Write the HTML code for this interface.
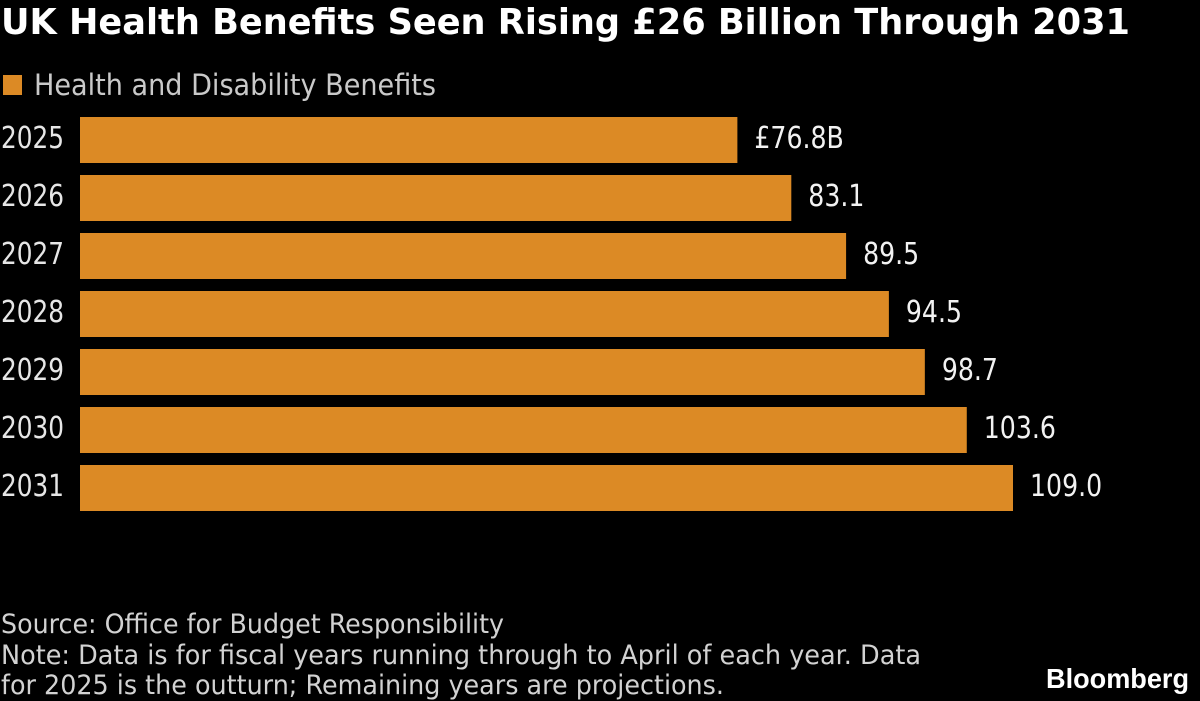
<!DOCTYPE html>
<html lang="en">
<head>
<meta charset="utf-8">
<title>UK Health Benefits Seen Rising £26 Billion Through 2031</title>
<style>
html,body{margin:0;padding:0;background:#000;width:1200px;height:701px;overflow:hidden}
svg{display:block}
text{font-family:"DejaVu Sans","Liberation Sans",sans-serif;fill:#e6e6e6}
</style>
</head>
<body>
<svg id="chart" width="1200" height="701" viewBox="0 0 1200 701" xmlns="http://www.w3.org/2000/svg">
  <rect x="0" y="0" width="1200" height="701" fill="#000"/>
  <text x="1" y="34" font-size="36" font-weight="700" style="fill:#fff" textLength="1129" lengthAdjust="spacingAndGlyphs">UK Health Benefits Seen Rising £26 Billion Through 2031</text>
  <rect x="3" y="75" width="19" height="20" fill="#dc8a25"/>
  <text x="34" y="95" font-size="29" style="fill:#c9c9c9" textLength="402" lengthAdjust="spacingAndGlyphs">Health and Disability Benefits</text>
  <g id="bars"></g>
  <text x="1" y="633" font-size="27" style="fill:#d2d2d2" textLength="503" lengthAdjust="spacingAndGlyphs">Source: Office for Budget Responsibility</text>
  <text x="1" y="664" font-size="27" style="fill:#d2d2d2" textLength="920" lengthAdjust="spacingAndGlyphs">Note: Data is for fiscal years running through to April of each year. Data</text>
  <text x="1" y="694" font-size="27" style="fill:#d2d2d2" textLength="723" lengthAdjust="spacingAndGlyphs">for 2025 is the outturn; Remaining years are projections.</text>
  <text x="1046" y="688" font-size="28" font-weight="700" style="fill:#fff;font-family:'Liberation Sans',sans-serif" textLength="143" lengthAdjust="spacingAndGlyphs">Bloomberg</text>
</svg>
<script>
const categories = ["2025", "2026", "2027", "2028", "2029", "2030", "2031"];
const seriesValues = [76.8, 83.1, 89.5, 94.5, 98.7, 103.6, 109.0];
const valueLabels = ["£76.8B", "83.1", "89.5", "94.5", "98.7", "103.6", "109.0"];

const NS = "http://www.w3.org/2000/svg";
const barsGroup = document.getElementById("bars");
const xOrigin = 80;
const xPerUnit = 933 / 109;
const yTop = 117;
const yStep = 58;
const barHeight = 46;
const textSqueeze = 0.84;
function xScale(v) { return xOrigin + v * xPerUnit; }
function yScale(i) { return yTop + i * yStep; }

categories.forEach(function (cat, i) {
  const y = yScale(i);
  const xEnd = xScale(seriesValues[i]);

  const label = document.createElementNS(NS, "text");
  
  
  label.setAttribute("x", 1);
  label.setAttribute("y", y + 31);
  label.setAttribute("font-size", 30);
  label.textContent = cat;
  barsGroup.appendChild(label);
  label.setAttribute("textLength", 63);
  label.setAttribute("lengthAdjust", "spacingAndGlyphs");

  const bar = document.createElementNS(NS, "rect");
  
  
  bar.setAttribute("x", xOrigin);
  bar.setAttribute("y", y);
  bar.setAttribute("width", xEnd - xOrigin);
  bar.setAttribute("height", barHeight);
  bar.setAttribute("fill", "#dc8a25");
  barsGroup.appendChild(bar);

  const val = document.createElementNS(NS, "text");
  
  
  val.setAttribute("x", xEnd + 17);
  val.setAttribute("y", y + 31);
  val.setAttribute("font-size", 30);
  val.style.fill = "#f2f2f2";
  val.textContent = valueLabels[i];
  barsGroup.appendChild(val);
  val.setAttribute("textLength", val.getComputedTextLength() * textSqueeze);
  val.setAttribute("lengthAdjust", "spacingAndGlyphs");
});
</script>
</body>
</html>
